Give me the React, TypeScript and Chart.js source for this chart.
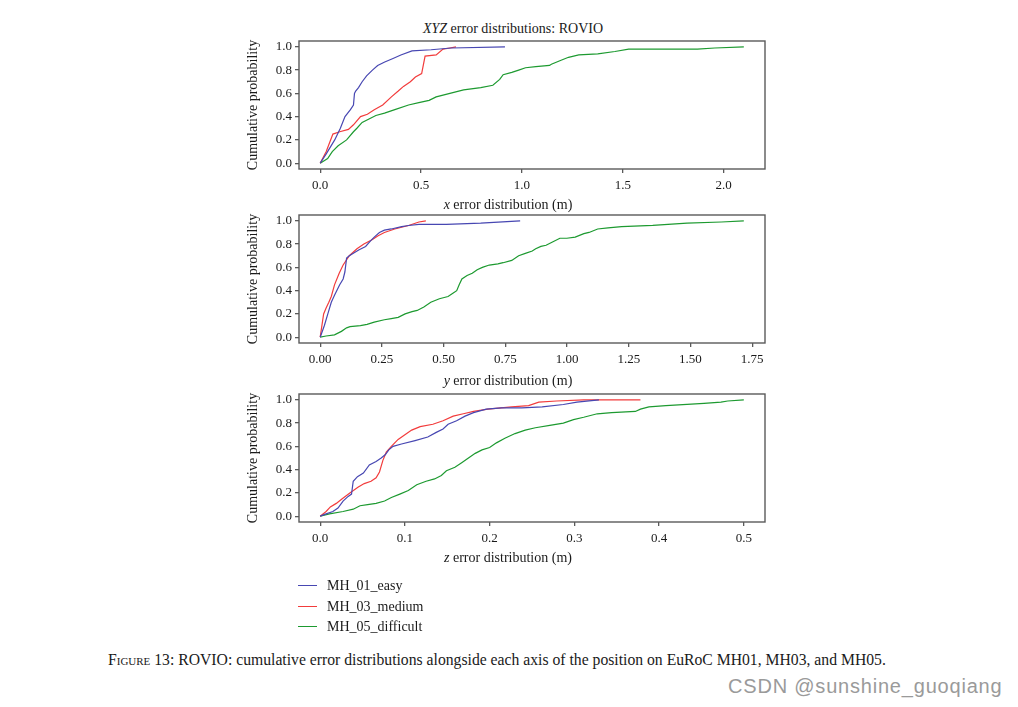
import React, { useEffect, useRef } from 'react';
import { Chart, registerables } from 'chart.js';

Chart.register(...registerables);

type P = [number, number];

// ---------- data ----------
const SERIES_NAMES = ['MH_01_easy', 'MH_03_medium', 'MH_05_difficult'];
const SERIES_COLORS = ['#4747b2', '#f23c3c', '#1d9a30'];

const Y_TICKS = [0, 0.2, 0.4, 0.6, 0.8, 1.0];
const X1_TICKS = [0, 0.5, 1.0, 1.5, 2.0];
const X2_TICKS = [0, 0.25, 0.5, 0.75, 1.0, 1.25, 1.5, 1.75];
const X3_TICKS = [0, 0.1, 0.2, 0.3, 0.4, 0.5];

// x error distribution
const X_EASY: P[] = [[0, 0], [0.03, 0.08], [0.072, 0.2], [0.1, 0.3], [0.123, 0.4], [0.15, 0.46], [0.165, 0.5], [0.17, 0.6], [0.176, 0.62], [0.19, 0.65], [0.208, 0.7], [0.23, 0.75], [0.259, 0.8], [0.285, 0.84], [0.32, 0.87], [0.361, 0.9], [0.4, 0.93], [0.455, 0.965], [0.55, 0.975], [0.65, 0.99], [0.916, 1.0]];
const X_MEDIUM: P[] = [[0, 0], [0.03, 0.1], [0.063, 0.25], [0.097, 0.27], [0.14, 0.29], [0.165, 0.33], [0.2, 0.4], [0.234, 0.42], [0.268, 0.46], [0.31, 0.5], [0.353, 0.57], [0.387, 0.62], [0.413, 0.66], [0.447, 0.7], [0.472, 0.74], [0.503, 0.77], [0.52, 0.92], [0.575, 0.93], [0.609, 0.98], [0.643, 0.99], [0.673, 1.0]];
const X_DIFFICULT: P[] = [[0, 0], [0.037, 0.04], [0.06, 0.1], [0.089, 0.15], [0.131, 0.2], [0.165, 0.27], [0.182, 0.3], [0.208, 0.35], [0.242, 0.38], [0.276, 0.41], [0.319, 0.43], [0.37, 0.46], [0.438, 0.5], [0.489, 0.52], [0.54, 0.54], [0.575, 0.57], [0.643, 0.6], [0.711, 0.63], [0.796, 0.65], [0.856, 0.67], [0.89, 0.72], [0.907, 0.76], [0.95, 0.78], [0.984, 0.8], [1.018, 0.82], [1.069, 0.83], [1.137, 0.84], [1.146, 0.85], [1.188, 0.88], [1.231, 0.91], [1.282, 0.93], [1.376, 0.94], [1.461, 0.96], [1.529, 0.98], [1.87, 0.98], [1.956, 0.99], [2.1, 1.0]];

// y error distribution
const Y_EASY: P[] = [[0, 0], [0.017, 0.1], [0.031, 0.2], [0.045, 0.3], [0.058, 0.36], [0.079, 0.45], [0.093, 0.5], [0.1, 0.56], [0.107, 0.68], [0.118, 0.7], [0.156, 0.75], [0.184, 0.78], [0.205, 0.83], [0.219, 0.86], [0.24, 0.9], [0.26, 0.92], [0.288, 0.93], [0.33, 0.95], [0.358, 0.96], [0.4, 0.97], [0.511, 0.97], [0.65, 0.98], [0.81, 1.0]];
const Y_MEDIUM: P[] = [[0, 0], [0.014, 0.2], [0.024, 0.25], [0.035, 0.3], [0.045, 0.35], [0.058, 0.45], [0.077, 0.55], [0.093, 0.62], [0.118, 0.7], [0.149, 0.76], [0.177, 0.8], [0.212, 0.84], [0.233, 0.87], [0.26, 0.9], [0.302, 0.93], [0.358, 0.96], [0.4, 0.99], [0.428, 1.0]];
const Y_DIFFICULT: P[] = [[0, 0], [0.024, 0.01], [0.058, 0.02], [0.086, 0.05], [0.107, 0.08], [0.121, 0.09], [0.163, 0.1], [0.19, 0.11], [0.219, 0.13], [0.26, 0.15], [0.288, 0.16], [0.316, 0.17], [0.344, 0.2], [0.372, 0.22], [0.393, 0.23], [0.42, 0.26], [0.448, 0.3], [0.483, 0.33], [0.518, 0.35], [0.539, 0.38], [0.553, 0.4], [0.563, 0.45], [0.574, 0.5], [0.595, 0.53], [0.616, 0.55], [0.636, 0.58], [0.657, 0.6], [0.685, 0.62], [0.72, 0.63], [0.741, 0.64], [0.776, 0.66], [0.804, 0.7], [0.831, 0.72], [0.859, 0.74], [0.873, 0.76], [0.894, 0.78], [0.915, 0.79], [0.943, 0.82], [0.971, 0.85], [0.999, 0.85], [1.033, 0.86], [1.068, 0.89], [1.089, 0.9], [1.124, 0.93], [1.166, 0.94], [1.221, 0.95], [1.347, 0.96], [1.486, 0.98], [1.625, 0.99], [1.716, 1.0]];

// z error distribution
const Z_EASY: P[] = [[0, 0], [0.007, 0.02], [0.015, 0.04], [0.021, 0.07], [0.027, 0.13], [0.033, 0.17], [0.037, 0.19], [0.039, 0.3], [0.044, 0.34], [0.051, 0.37], [0.058, 0.44], [0.066, 0.47], [0.072, 0.5], [0.077, 0.53], [0.081, 0.57], [0.086, 0.6], [0.096, 0.62], [0.112, 0.65], [0.127, 0.68], [0.137, 0.72], [0.145, 0.75], [0.151, 0.79], [0.161, 0.82], [0.171, 0.86], [0.181, 0.89], [0.196, 0.92], [0.214, 0.93], [0.238, 0.93], [0.262, 0.94], [0.287, 0.96], [0.303, 0.98], [0.329, 1.0]];
const Z_MEDIUM: P[] = [[0, 0], [0.007, 0.04], [0.012, 0.08], [0.019, 0.11], [0.026, 0.15], [0.035, 0.2], [0.045, 0.25], [0.052, 0.28], [0.06, 0.3], [0.066, 0.33], [0.07, 0.38], [0.074, 0.48], [0.078, 0.55], [0.084, 0.6], [0.092, 0.66], [0.1, 0.7], [0.108, 0.74], [0.118, 0.77], [0.133, 0.79], [0.145, 0.82], [0.157, 0.86], [0.169, 0.88], [0.181, 0.9], [0.198, 0.92], [0.226, 0.94], [0.246, 0.95], [0.258, 0.98], [0.279, 0.99], [0.311, 1.0], [0.378, 1.0]];
const Z_DIFFICULT: P[] = [[0, 0], [0.011, 0.02], [0.027, 0.04], [0.039, 0.06], [0.047, 0.09], [0.056, 0.1], [0.066, 0.11], [0.076, 0.13], [0.084, 0.16], [0.094, 0.19], [0.104, 0.22], [0.114, 0.27], [0.125, 0.3], [0.135, 0.32], [0.143, 0.35], [0.149, 0.39], [0.159, 0.42], [0.167, 0.46], [0.175, 0.5], [0.183, 0.54], [0.191, 0.57], [0.2, 0.59], [0.208, 0.63], [0.218, 0.67], [0.23, 0.71], [0.242, 0.74], [0.254, 0.76], [0.271, 0.78], [0.287, 0.8], [0.299, 0.83], [0.311, 0.85], [0.327, 0.88], [0.344, 0.89], [0.372, 0.9], [0.378, 0.92], [0.388, 0.94], [0.408, 0.95], [0.433, 0.96], [0.453, 0.97], [0.473, 0.98], [0.481, 0.99], [0.5, 1.0]];

const TITLE_TEXT = 'error distributions: ROVIO';
const Y_LABEL = 'Cumulative probability';
const CAPTION = ' 13: ROVIO: cumulative error distributions alongside each axis of the position on EuRoC MH01, MH03, and MH05.';
const WATERMARK = 'CSDN @sunshine_guoqiang';

// ---------- styles ----------
const SERIF = '"Liberation Serif", "Times New Roman", serif';
const TEXT_COLOR = '#1a1a1a';
const FRAME_COLOR = '#5a5a5a';

const framePlugin = {
  id: 'frame',
  afterDatasetsDraw(chart: any) {
    const { ctx, chartArea: a } = chart;
    ctx.save();
    ctx.strokeStyle = FRAME_COLOR;
    ctx.lineWidth = 1.4;
    ctx.strokeRect(a.left, a.top, a.right - a.left, a.bottom - a.top);
    ctx.restore();
  },
};

const CANVAS_LEFT = 230;
const CANVAS_W = 560;
const PAD_TOP = 12;
const PLOT_H = 128;
const XAXIS_H = 30;

function Plot(props: { top: number; series: P[][]; xTicks: number[]; xMax: number; decimals: number }) {
  const ref = useRef<HTMLCanvasElement>(null);
  const { top, series, xTicks, xMax, decimals } = props;
  useEffect(() => {
    const margin = xMax * 0.05;
    const chart = new Chart(ref.current as HTMLCanvasElement, {
      type: 'line',
      data: {
        datasets: series.map((pts, i) => ({
          label: SERIES_NAMES[i],
          data: pts.map(([x, y]) => ({ x, y })),
          borderColor: SERIES_COLORS[i],
          backgroundColor: SERIES_COLORS[i],
          borderWidth: 1.2,
          pointRadius: 0,
          tension: 0,
          fill: false,
        })),
      },
      options: {
        animation: false,
        responsive: false,
        devicePixelRatio: 1,
        layout: { padding: { left: 0, right: 25, top: PAD_TOP, bottom: 0 } },
        plugins: { legend: { display: false }, tooltip: { enabled: false }, title: { display: false } },
        scales: {
          x: {
            type: 'linear',
            min: -margin,
            max: xMax + margin,
            afterBuildTicks: (ax: any) => {
              ax.ticks = xTicks.map((v) => ({ value: v }));
            },
            afterFit: (s: any) => {
              s.height = XAXIS_H;
            },
            ticks: {
              autoSkip: false,
              maxRotation: 0,
              padding: 5,
              color: TEXT_COLOR,
              font: { family: SERIF, size: 13 },
              callback: (v: any) => Number(v).toFixed(decimals),
            },
            grid: { display: true, drawOnChartArea: false, drawTicks: true, tickLength: 4, color: FRAME_COLOR, lineWidth: 1.3 },
            border: { display: false },
          },
          y: {
            type: 'linear',
            min: -0.05,
            max: 1.05,
            afterBuildTicks: (ax: any) => {
              ax.ticks = Y_TICKS.map((v) => ({ value: v }));
            },
            afterFit: (s: any) => {
              s.width = 69;
            },
            ticks: {
              autoSkip: false,
              padding: 3,
              color: TEXT_COLOR,
              font: { family: SERIF, size: 13 },
              callback: (v: any) => Number(v).toFixed(1),
            },
            title: {
              display: true,
              text: Y_LABEL,
              color: TEXT_COLOR,
              font: { family: SERIF, size: 14 },
              padding: { top: 15, bottom: 0 },
            },
            grid: { display: true, drawOnChartArea: false, drawTicks: true, tickLength: 4, color: FRAME_COLOR, lineWidth: 1.3 },
            border: { display: false },
          },
        },
      },
      plugins: [framePlugin],
    } as any);
    return () => chart.destroy();
  }, []);
  const h = PAD_TOP + PLOT_H + XAXIS_H;
  return (
    <canvas
      ref={ref}
      width={CANVAS_W}
      height={h}
      style={{ position: 'absolute', left: CANVAS_LEFT, top: top - PAD_TOP, width: CANVAS_W, height: h }}
    />
  );
}

function CenterText(props: { cx: number; cy: number; children: React.ReactNode }) {
  return (
    <div
      style={{
        position: 'absolute',
        left: props.cx - 200,
        top: props.cy - 9,
        width: 400,
        height: 18,
        lineHeight: '18px',
        textAlign: 'center',
        fontFamily: SERIF,
        fontSize: 14,
        color: TEXT_COLOR,
        whiteSpace: 'nowrap',
      }}
    >
      {props.children}
    </div>
  );
}

export default function App() {
  const legendRows = [586, 606.5, 627];
  return (
    <div style={{ position: 'absolute', left: 0, top: 0, width: 1018, height: 707, background: '#fff', overflow: 'hidden' }}>
      <CenterText cx={513} cy={29}>
        <i>XYZ</i> {TITLE_TEXT}
      </CenterText>
      <Plot top={41} series={[X_EASY, X_MEDIUM, X_DIFFICULT]} xTicks={X1_TICKS} xMax={2.1} decimals={1} />
      <CenterText cx={508} cy={205}>
        <i>x</i> error distribution (m)
      </CenterText>
      <Plot top={215} series={[Y_EASY, Y_MEDIUM, Y_DIFFICULT]} xTicks={X2_TICKS} xMax={1.716} decimals={2} />
      <CenterText cx={508} cy={381}>
        <i>y</i> error distribution (m)
      </CenterText>
      <Plot top={394} series={[Z_EASY, Z_MEDIUM, Z_DIFFICULT]} xTicks={X3_TICKS} xMax={0.5} decimals={1} />
      <CenterText cx={508} cy={558}>
        <i>z</i> error distribution (m)
      </CenterText>
      {SERIES_NAMES.map((name, i) => (
        <div key={name} style={{ position: 'absolute', left: 298, top: legendRows[i] - 9, height: 18, width: 200 }}>
          <div style={{ position: 'absolute', left: 0, top: 8, width: 19, height: 1.3, background: SERIES_COLORS[i] }} />
          <div
            style={{
              position: 'absolute',
              left: 29,
              top: 0,
              lineHeight: '18px',
              fontFamily: SERIF,
              fontSize: 14,
              color: TEXT_COLOR,
              whiteSpace: 'nowrap',
            }}
          >
            {name}
          </div>
        </div>
      ))}
      <div
        style={{
          position: 'absolute',
          left: 108,
          top: 650,
          lineHeight: '20px',
          fontFamily: SERIF,
          fontSize: 15.7,
          color: TEXT_COLOR,
          whiteSpace: 'nowrap',
        }}
      >
        <span style={{ fontVariant: 'small-caps' }}>Figure</span>
        {CAPTION}
      </div>
      <div
        style={{
          position: 'absolute',
          left: 728,
          top: 674,
          lineHeight: '24px',
          fontFamily: '"Liberation Sans", Arial, sans-serif',
          fontSize: 20,
          letterSpacing: 0.8,
          color: '#9a9a9a',
          whiteSpace: 'nowrap',
        }}
      >
        {WATERMARK}
      </div>
    </div>
  );
}
